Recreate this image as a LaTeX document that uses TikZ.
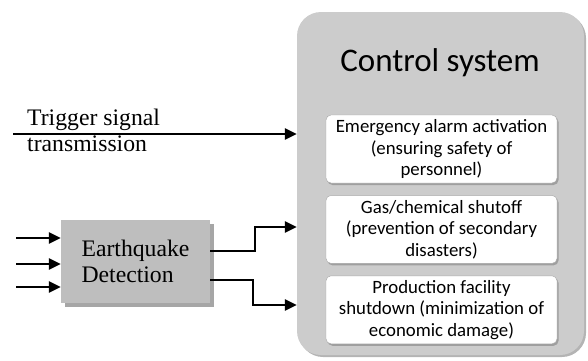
\documentclass[tikz,border=0pt]{standalone}
\usepackage{fontspec}
\setmainfont{Liberation Serif}
\newfontfamily\calibfont{Carlito}
\usepackage{tikz}
\usetikzlibrary{shapes,arrows,positioning,calc,arrows.meta,shadows}
\definecolor{panelgray}{HTML}{CCCCCC}
\definecolor{panelshade}{HTML}{B4B4B4}
\definecolor{detgray}{HTML}{BEBEBE}
\definecolor{detshade}{HTML}{A6A6A6}
\tikzstyle{arrow} = [-{Triangle[length=12pt,width=11pt]}, line width=2.6pt]
\tikzstyle{task} = [rectangle, rounded corners=5pt, draw=gray!70, fill=white, minimum width=231pt, minimum height=68pt, align=center, inner sep=2pt, font=\calibfont\fontsize{18.8}{21.5}\selectfont, drop shadow={shadow xshift=1.5pt, shadow yshift=-2pt, opacity=1, fill=gray!75}]

\begin{document}
\begin{tikzpicture}[x=1pt, y=-1pt, node distance=12pt]
    \useasboundingbox (0,0) rectangle (588,360);

    % Control system panel
    \node[rectangle, rounded corners=24pt, fill=panelgray, minimum width=287pt, minimum height=343pt, drop shadow={shadow xshift=2pt, shadow yshift=-2pt, opacity=1, fill=panelshade}] (ctrl) at (440.5,183.5) {};
    \node[font=\calibfont\fontsize{33}{36}\selectfont] (title) at (440,63) {Control system};

    % Actions
    \node[task] (alarm) at (441.5,149) {Emergency alarm activation\\(ensuring safety of\\personnel)};
    \node[task, below=of alarm] (gas) {Gas/chemical shutoff\\(prevention of secondary\\disasters)};
    \node[task, below=of gas] (plant) {Production facility\\shutdown (minimization of\\economic damage)};

    % Detection
    \node[rectangle, fill=detgray, minimum width=149pt, minimum height=83pt, align=left, font=\fontsize{23.7}{26}\selectfont, drop shadow={shadow xshift=4pt, shadow yshift=-4pt, opacity=1, fill=detshade}] (eq) at (135.5,261.5) {Earthquake\\Detection};

    % Trigger
    \coordinate (trig) at (13,134);
    \node[anchor=north west, inner sep=0pt, align=left, font=\fontsize{23.7}{26}\selectfont] (trigtext) at (27,109) {Trigger signal\\transmission};

    % Inputs
    \coordinate (in1) at (16,238);
    \coordinate (in2) at (16,264);
    \coordinate (in3) at (16,287);

    % Arrows
    \draw[arrow] (trig) -- (trig -| ctrl.west);
    \draw[arrow] (in1) -- (in1 -| eq.west);
    \draw[arrow] (in2) -- (in2 -| eq.west);
    \draw[arrow] (in3) -- (in3 -| eq.west);
    \draw[arrow] (eq.east |- 0,251) -- (255,251) |- (ctrl.west |- 0,227);
    \draw[arrow] (eq.east |- 0,280) -- (253,280) |- (ctrl.west |- 0,305);
\end{tikzpicture}
\end{document}
